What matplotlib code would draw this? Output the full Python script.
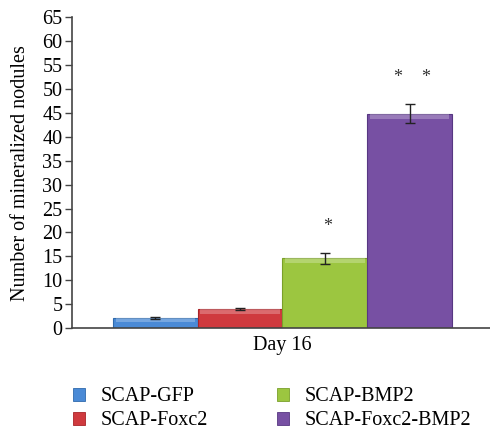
import numpy as np
import matplotlib
matplotlib.use("Agg")
import matplotlib.pyplot as plt
from matplotlib.patches import Patch

# mineralized nodules counted at day 16
groups = ["SCAP-GFP", "SCAP-Foxc2", "SCAP-BMP2", "SCAP-Foxc2-BMP2"]
nodules = [2.1, 4.0, 14.6, 44.8]
errors = [0.15, 0.15, 1.1, 2.0]
stars = [0, 0, 1, 2]
colors = ["#4a8ad6", "#cf3a3e", "#9cc640", "#7750a3"]
edges = ["#2f6aad", "#a82428", "#7aa02a", "#573782"]
xlabel = "Day 16"
ylabel = "Number of mineralized nodules"

plt.rcParams["font.family"] = ["Liberation Serif", "DejaVu Serif"]
FS = 14.5

fig = plt.figure(figsize=(4.9, 4.3), dpi=100)
ax = fig.add_axes([0.147, 0.237, 0.853, 0.723])

x = np.arange(len(groups))
ax.bar(x, nodules, width=1.0, color=colors, edgecolor=edges, linewidth=0.8)

# light band at the top of each bar for the bevelled look
for xi, v in zip(x, nodules):
    h = min(1.0, v * 0.35)
    ax.bar(xi, h, bottom=v - h, width=0.94, color="white", alpha=0.25, linewidth=0)

ax.errorbar(x, nodules, yerr=errors, fmt="none", ecolor="#222222",
            elinewidth=1.0, capsize=3.5, capthick=1.0)

# significance marks above the error bars
for xi, v, e, n in zip(x, nodules, errors, stars):
    if n == 0:
        continue
    offs = [0.0] if n == 1 else [-0.165, 0.165]
    for o in offs:
        ax.text(xi + o + 0.03, v + e + 5.6, "*", ha="center", va="center",
                fontsize=13, color="#333333")

ax.set_ylim(0, 65)
ax.set_xlim(-0.984, 3.95)
ax.set_yticks(np.arange(0, 66, 5))
ax.set_xticks([1.5])
ax.set_xticklabels([xlabel])
ax.tick_params(axis="x", length=0, pad=6, labelsize=FS)
ax.tick_params(axis="y", direction="out", length=5, width=1, pad=2,
               labelsize=FS, color="#444444")
ax.set_ylabel(ylabel, fontsize=FS, labelpad=9)

for side in ["top", "right"]:
    ax.spines[side].set_visible(False)
for side in ["left", "bottom"]:
    ax.spines[side].set_color("#444444")
    ax.spines[side].set_linewidth(1.2)

handles = [Patch(facecolor=c, edgecolor=e, linewidth=0.6) for c, e in zip(colors, edges)]
fig.legend(handles, groups, ncol=2, loc="upper left",
           bbox_to_anchor=(0.133, 0.118), frameon=False, fontsize=FS,
           handlelength=0.6, handleheight=0.6, handletextpad=0.75,
           columnspacing=3.45, labelspacing=0.25, borderaxespad=0)

fig.savefig("out.png", dpi=100)
